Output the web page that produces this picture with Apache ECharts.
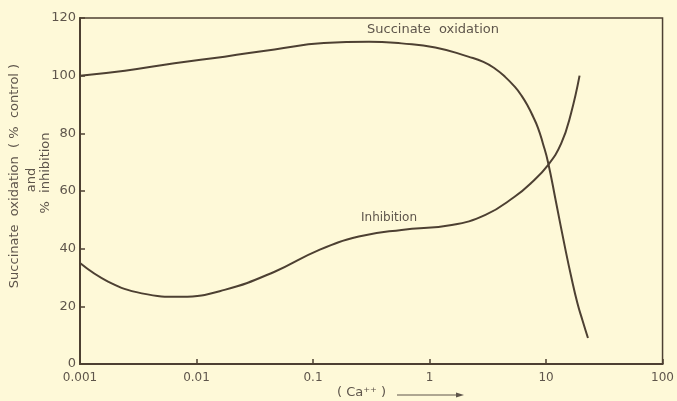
<!DOCTYPE html>
<html>
<head>
<meta charset="utf-8">
<script src="https://cdn.jsdelivr.net/npm/echarts@6/dist/echarts.min.js"></script>
<style>
  html, body { margin: 0; padding: 0; background: #fef9d8; }
  #chart { width: 677px; height: 401px; }
</style>
</head>
<body>
<div id="chart"></div>
<script>
// Calcium concentration (log scale) and response values
const xTickLabels = ['0.001', '0.01', '0.1', '1', '10', '100'];
const yTicks = [0, 20, 40, 60, 80, 100, 120];

const succinateConc = [0.001, 0.00243, 0.00646, 0.0174, 0.0468, 0.124, 0.302, 0.575, 1.12, 2.15, 2.9, 3.66, 4.45, 5.43, 6.2, 7.01, 7.7, 8.51, 9.4, 10.4, 12.2, 14.5, 16.5, 18.6, 20.6, 22.9];
const succinateVals = [100, 101.7, 104.3, 106.6, 109.1, 111.3, 111.8, 111.2, 109.8, 106.6, 104.8, 102.4, 99.6, 96.0, 92.9, 89.3, 86.0, 82.0, 76.5, 70, 56, 40.7, 30, 21.1, 15, 9];

const inhibitionConc = [0.001, 0.00174, 0.00339, 0.00741, 0.0174, 0.0468, 0.112, 0.247, 0.575, 1.55, 3.02, 5.37, 7.41, 10.4, 13.5, 16.4, 19.4];
const inhibitionVals = [35, 28.6, 24.5, 23.3, 25.7, 32, 39.5, 44.2, 46.5, 48.2, 51.7, 58, 62.7, 69, 76.5, 87, 100];

const ink = '#4d4032';
const textInk = '#5e554b';
const font = '"DejaVu Sans"';

const pairs = (xs, ys) => xs.map((x, i) => [x, ys[i]]);

const chart = echarts.init(document.getElementById('chart'), null, { renderer: 'canvas' });

chart.setOption({
  backgroundColor: '#fef9d8',
  animation: false,
  grid: {
    left: 80, right: 11, top: 18, bottom: 37,
    show: true, borderColor: ink, borderWidth: 1.5, backgroundColor: 'transparent'
  },
  xAxis: {
    type: 'log',
    logBase: 10,
    min: 0.001,
    max: 100,
    axisLine: { show: true, lineStyle: { color: ink, width: 2 } },
    axisTick: { show: true, inside: true, length: 5, lineStyle: { color: ink, width: 1.5 } },
    minorTick: { show: false },
    splitLine: { show: false },
    axisLabel: {
      color: textInk, fontFamily: 'DejaVu Sans', fontSize: 12, margin: 8,
      formatter: (v) => {
        const idx = Math.round(Math.log10(v)) + 3;
        return xTickLabels[idx] !== undefined ? xTickLabels[idx] : '';
      }
    }
  },
  yAxis: {
    type: 'value',
    min: yTicks[0],
    max: yTicks[yTicks.length - 1],
    interval: 20,
    axisLine: { show: true, lineStyle: { color: ink, width: 2 } },
    axisTick: { show: true, inside: true, length: 5, lineStyle: { color: ink, width: 1.5 } },
    splitLine: { show: false },
    axisLabel: { color: textInk, fontFamily: 'DejaVu Sans', fontSize: 13, margin: 4 }
  },
  series: [
    {
      name: 'Succinate oxidation',
      type: 'line',
      data: pairs(succinateConc, succinateVals),
      smooth: 0.5,
      showSymbol: false,
      lineStyle: { color: ink, width: 2 }
    },
    {
      name: 'Inhibition',
      type: 'line',
      data: pairs(inhibitionConc, inhibitionVals),
      smooth: 0.45,
      showSymbol: false,
      lineStyle: { color: ink, width: 2 }
    }
  ],
  graphic: [
    // curve labels
    { type: 'text', left: 367, top: 23, style: { text: 'Succinate  oxidation', fill: textInk, font: '13px ' + font } },
    { type: 'text', left: 361, top: 212, style: { text: 'Inhibition', fill: textInk, font: '12px ' + font } },
    // y-axis title, three rotated lines
    { type: 'text', x: 15, y: 176, rotation: Math.PI / 2,
      style: { text: 'Succinate  oxidation  ( %  control )', fill: textInk, font: '13px ' + font, align: 'center', verticalAlign: 'middle' } },
    { type: 'text', x: 32, y: 180, rotation: Math.PI / 2,
      style: { text: 'and', fill: textInk, font: '13px ' + font, align: 'center', verticalAlign: 'middle' } },
    { type: 'text', x: 46, y: 173, rotation: Math.PI / 2,
      style: { text: '%  inhibition', fill: textInk, font: '13px ' + font, align: 'center', verticalAlign: 'middle' } },
    // x-axis title with arrow
    { type: 'text', left: 337, top: 386, style: { text: '( Ca⁺⁺ )', fill: textInk, font: '13px ' + font } },
    { type: 'line', shape: { x1: 397, y1: 395, x2: 458, y2: 395 }, style: { stroke: textInk, lineWidth: 1 } },
    { type: 'polygon', shape: { points: [[464, 395], [456, 392.5], [456, 397.5]] }, style: { fill: textInk } }
  ]
});
</script>
</body>
</html>
